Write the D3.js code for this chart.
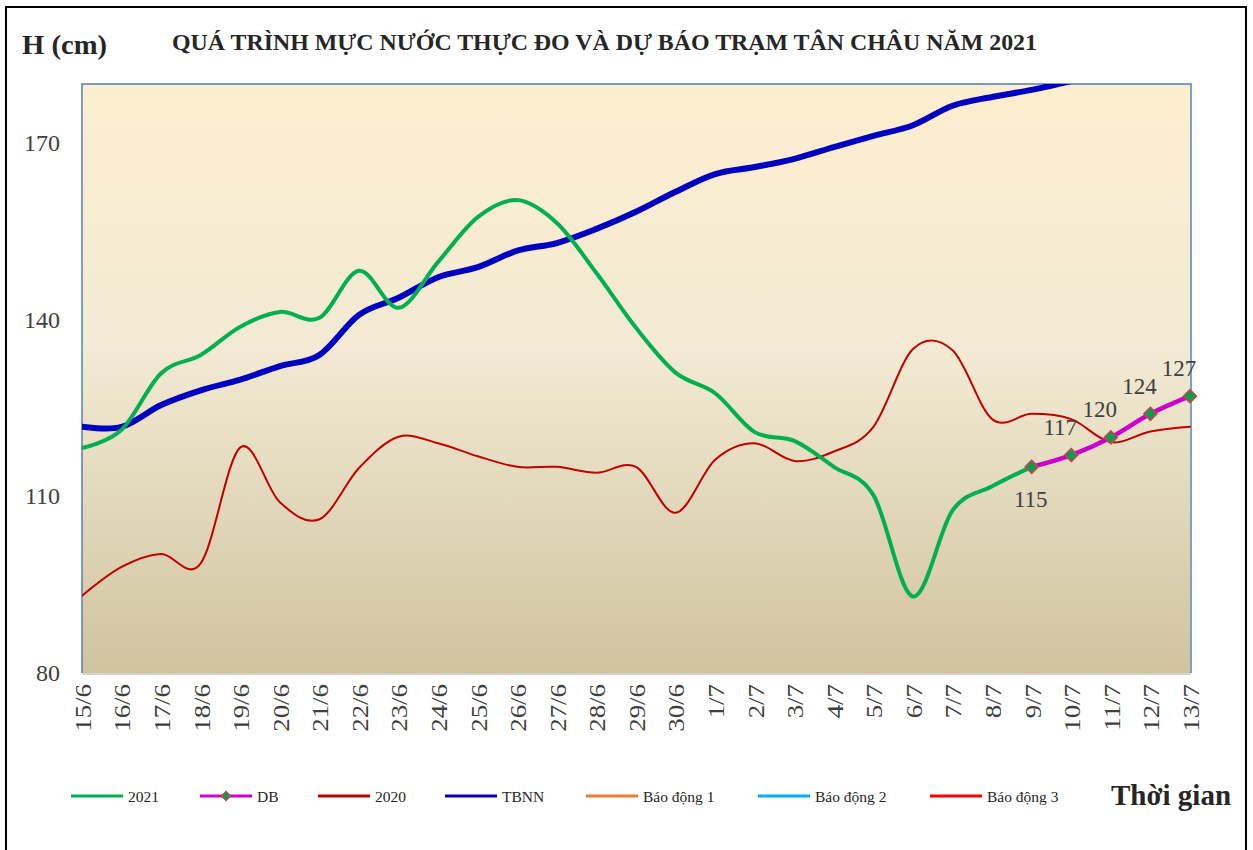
<!DOCTYPE html>
<html>
<head>
<meta charset="utf-8">
<script src="https://cdnjs.cloudflare.com/ajax/libs/d3/7.8.5/d3.min.js"></script>
<style>
  html, body { margin: 0; padding: 0; background: #ffffff; }
  svg { display: block; }
  text { font-family: "Liberation Serif", "Times New Roman", serif; }
</style>
</head>
<body>
<svg id="chart" width="1253" height="850"></svg>
<script>
// ---------- DATA ----------
const categories = ["15/6","16/6","17/6","18/6","19/6","20/6","21/6","22/6","23/6","24/6","25/6","26/6","27/6","28/6","29/6","30/6","1/7","2/7","3/7","4/7","5/7","6/7","7/7","8/7","9/7","10/7","11/7","12/7","13/7"];
const series2021 = [118.2,121.3,130.9,134,138.8,141.3,140.3,148.3,142,149.8,157.4,160.3,156.4,147.9,138.6,131,127.5,120.9,119.4,115,110.2,93,107.6,111.7,115,null,null,null,null];
const seriesDB   = [null,null,null,null,null,null,null,null,null,null,null,null,null,null,null,null,null,null,null,null,null,null,null,null,115,117,120,124,127];
const series2020 = [93.1,98,100.2,98.6,118.3,109,106.1,114.8,120.1,119,116.8,115,115,114,115,107.2,116.2,119,116,117.6,121.8,135,134.8,123.1,124,123.1,119.2,121,121.8];
const seriesTBNN = [121.8,121.8,125.5,128,129.8,132.1,134,140.8,143.7,147.2,148.9,151.7,153,155.4,158.3,161.7,164.7,165.9,167.3,169.3,171.2,173,176.3,177.8,179,180.5,182,183.5,185];
const yTicks = [80,110,140,170];
const legendNames = ["2021","DB","2020","TBNN","Báo động 1","Báo động 2","Báo động 3"];
const legendColors = ["#00B050","#CC00CC","#C00000","#0000C0","#ED7D31","#00B0F0","#FF0000"];
const titleText = "QUÁ TRÌNH MỰC NƯỚC THỰC ĐO VÀ DỰ BÁO TRẠM TÂN CHÂU NĂM 2021";
const yAxisTitle = "H (cm)";
const xAxisTitle = "Thời gian";

// ---------- LAYOUT ----------
const svg = d3.select("#chart");
const plot = {left: 82, right: 1190, top: 84, bottom: 673};

const x = d3.scalePoint().domain(categories).range([plot.left, plot.right]);
const y = d3.scaleLinear().domain([80, 180]).range([plot.bottom, plot.top]);

// outer frame
svg.append("rect").attr("x", 6).attr("y", 7).attr("width", 1240).attr("height", 860)
  .attr("fill", "none").attr("stroke", "#000").attr("stroke-width", 2);

// background gradient
const defs = svg.append("defs");
const grad = defs.append("linearGradient").attr("id", "bg").attr("x1", 0).attr("y1", 0).attr("x2", 0).attr("y2", 1);
grad.append("stop").attr("offset", "0%").attr("stop-color", "#FEEED0");
grad.append("stop").attr("offset", "45%").attr("stop-color", "#F2EAD4");
grad.append("stop").attr("offset", "100%").attr("stop-color", "#D0C39E");
defs.append("clipPath").attr("id", "clip").append("rect")
  .attr("x", plot.left).attr("y", plot.top)
  .attr("width", plot.right - plot.left + 2).attr("height", plot.bottom - plot.top);

svg.append("rect").attr("x", plot.left).attr("y", plot.top)
  .attr("width", plot.right - plot.left).attr("height", plot.bottom - plot.top)
  .attr("fill", "url(#bg)");

// plot borders
svg.append("path")
  .attr("d", `M${plot.left},${plot.bottom}V${plot.top}H${plot.right + 1}V${plot.bottom}`)
  .attr("fill", "none").attr("stroke", "#4F81BD").attr("stroke-width", 1.5);
svg.append("line").attr("x1", plot.left).attr("x2", plot.right + 1)
  .attr("y1", plot.bottom + 1).attr("y2", plot.bottom + 1)
  .attr("stroke", "#D4D4D4").attr("stroke-width", 2);

// Y axis
const yAxis = svg.append("g").attr("transform", `translate(${plot.left},0)`)
  .call(d3.axisLeft(y).tickValues(yTicks).tickSize(0).tickPadding(22));
yAxis.select(".domain").remove();
yAxis.selectAll("text").attr("font-size", 24).attr("fill", "#404040")
  .style("font-family", "'Liberation Serif', serif");

// X axis
const xAxis = svg.append("g").attr("transform", `translate(0,${plot.bottom})`)
  .call(d3.axisBottom(x).tickSize(0));
xAxis.select(".domain").remove();
xAxis.selectAll("text")
  .attr("font-size", 24).attr("fill", "#404040")
  .style("font-family", "'Liberation Serif', serif")
  .attr("text-anchor", "end")
  .attr("dy", "0.35em")
  .attr("transform", "translate(0,11) rotate(-90) scale(1.12,1)")
  .attr("x", 0).attr("y", 0);

// lines
const gLines = svg.append("g").attr("clip-path", "url(#clip)");
function drawLine(values, color, width) {
  const pts = values.map((v, i) => v == null ? null : [x(categories[i]), y(v)]);
  const gen = d3.line().defined(d => d != null).curve(d3.curveCardinal.tension(0));
  gLines.append("path").attr("d", gen(pts)).attr("fill", "none")
    .attr("stroke", color).attr("stroke-width", width)
    .attr("stroke-linejoin", "round").attr("stroke-linecap", "round");
}
drawLine(series2020, legendColors[2], 2);
drawLine(seriesTBNN, legendColors[3], 6);
drawLine(series2021, legendColors[0], 4);
drawLine(seriesDB, legendColors[1], 4.5);

// DB markers
const dbPts = seriesDB.map((v, i) => ({v, c: categories[i]})).filter(d => d.v != null);
svg.append("g").selectAll("path").data(dbPts).join("path")
  .attr("d", d3.symbol().type(d3.symbolSquare).size(80))
  .attr("transform", d => `translate(${x(d.c)},${y(d.v)}) rotate(45)`)
  .attr("fill", "#00A050").attr("stroke", "#B0504D").attr("stroke-width", 1.8);

// DB labels
svg.append("g").selectAll("text").data(dbPts).join("text")
  .attr("x", (d, i) => x(d.c) + (i === 0 ? -1 : -11))
  .attr("y", (d, i) => y(d.v) + (i === 0 ? 40 : -20))
  .attr("text-anchor", "middle")
  .attr("font-size", 23).attr("fill", "#404040")
  .text(d => d.v);

// Title & axis titles
svg.append("text").attr("x", 172).attr("y", 50)
  .attr("font-size", 24).attr("font-weight", "bold").attr("fill", "#262626")
  .attr("textLength", 865).attr("lengthAdjust", "spacingAndGlyphs")
  .text(titleText);
svg.append("text").attr("x", 22).attr("y", 54)
  .attr("font-size", 28).attr("font-weight", "bold").attr("fill", "#262626")
  .attr("textLength", 85).attr("lengthAdjust", "spacingAndGlyphs")
  .text(yAxisTitle);
svg.append("text").attr("x", 1111).attr("y", 805)
  .attr("font-size", 29).attr("font-weight", "bold").attr("fill", "#262626")
  .text(xAxisTitle);

// Legend
const legendX = [71, 200, 318, 445, 586, 758, 930];
const legY = 796;
const leg = svg.append("g");
legendNames.forEach((name, i) => {
  const g = leg.append("g").attr("transform", `translate(${legendX[i]},${legY})`);
  g.append("line").attr("x1", 0).attr("x2", 52).attr("y1", 0).attr("y2", 0)
    .attr("stroke", legendColors[i]).attr("stroke-width", 3);
  if (name === "DB") {
    g.append("path").attr("d", d3.symbol().type(d3.symbolSquare).size(40))
      .attr("transform", "translate(26,0) rotate(45)")
      .attr("fill", "#00A050").attr("stroke", "#B0504D").attr("stroke-width", 1.5);
  }
  g.append("text").attr("x", 57).attr("y", 5.5)
    .attr("font-size", 15.5).attr("fill", "#262626").text(name);
});
</script>
</body>
</html>
